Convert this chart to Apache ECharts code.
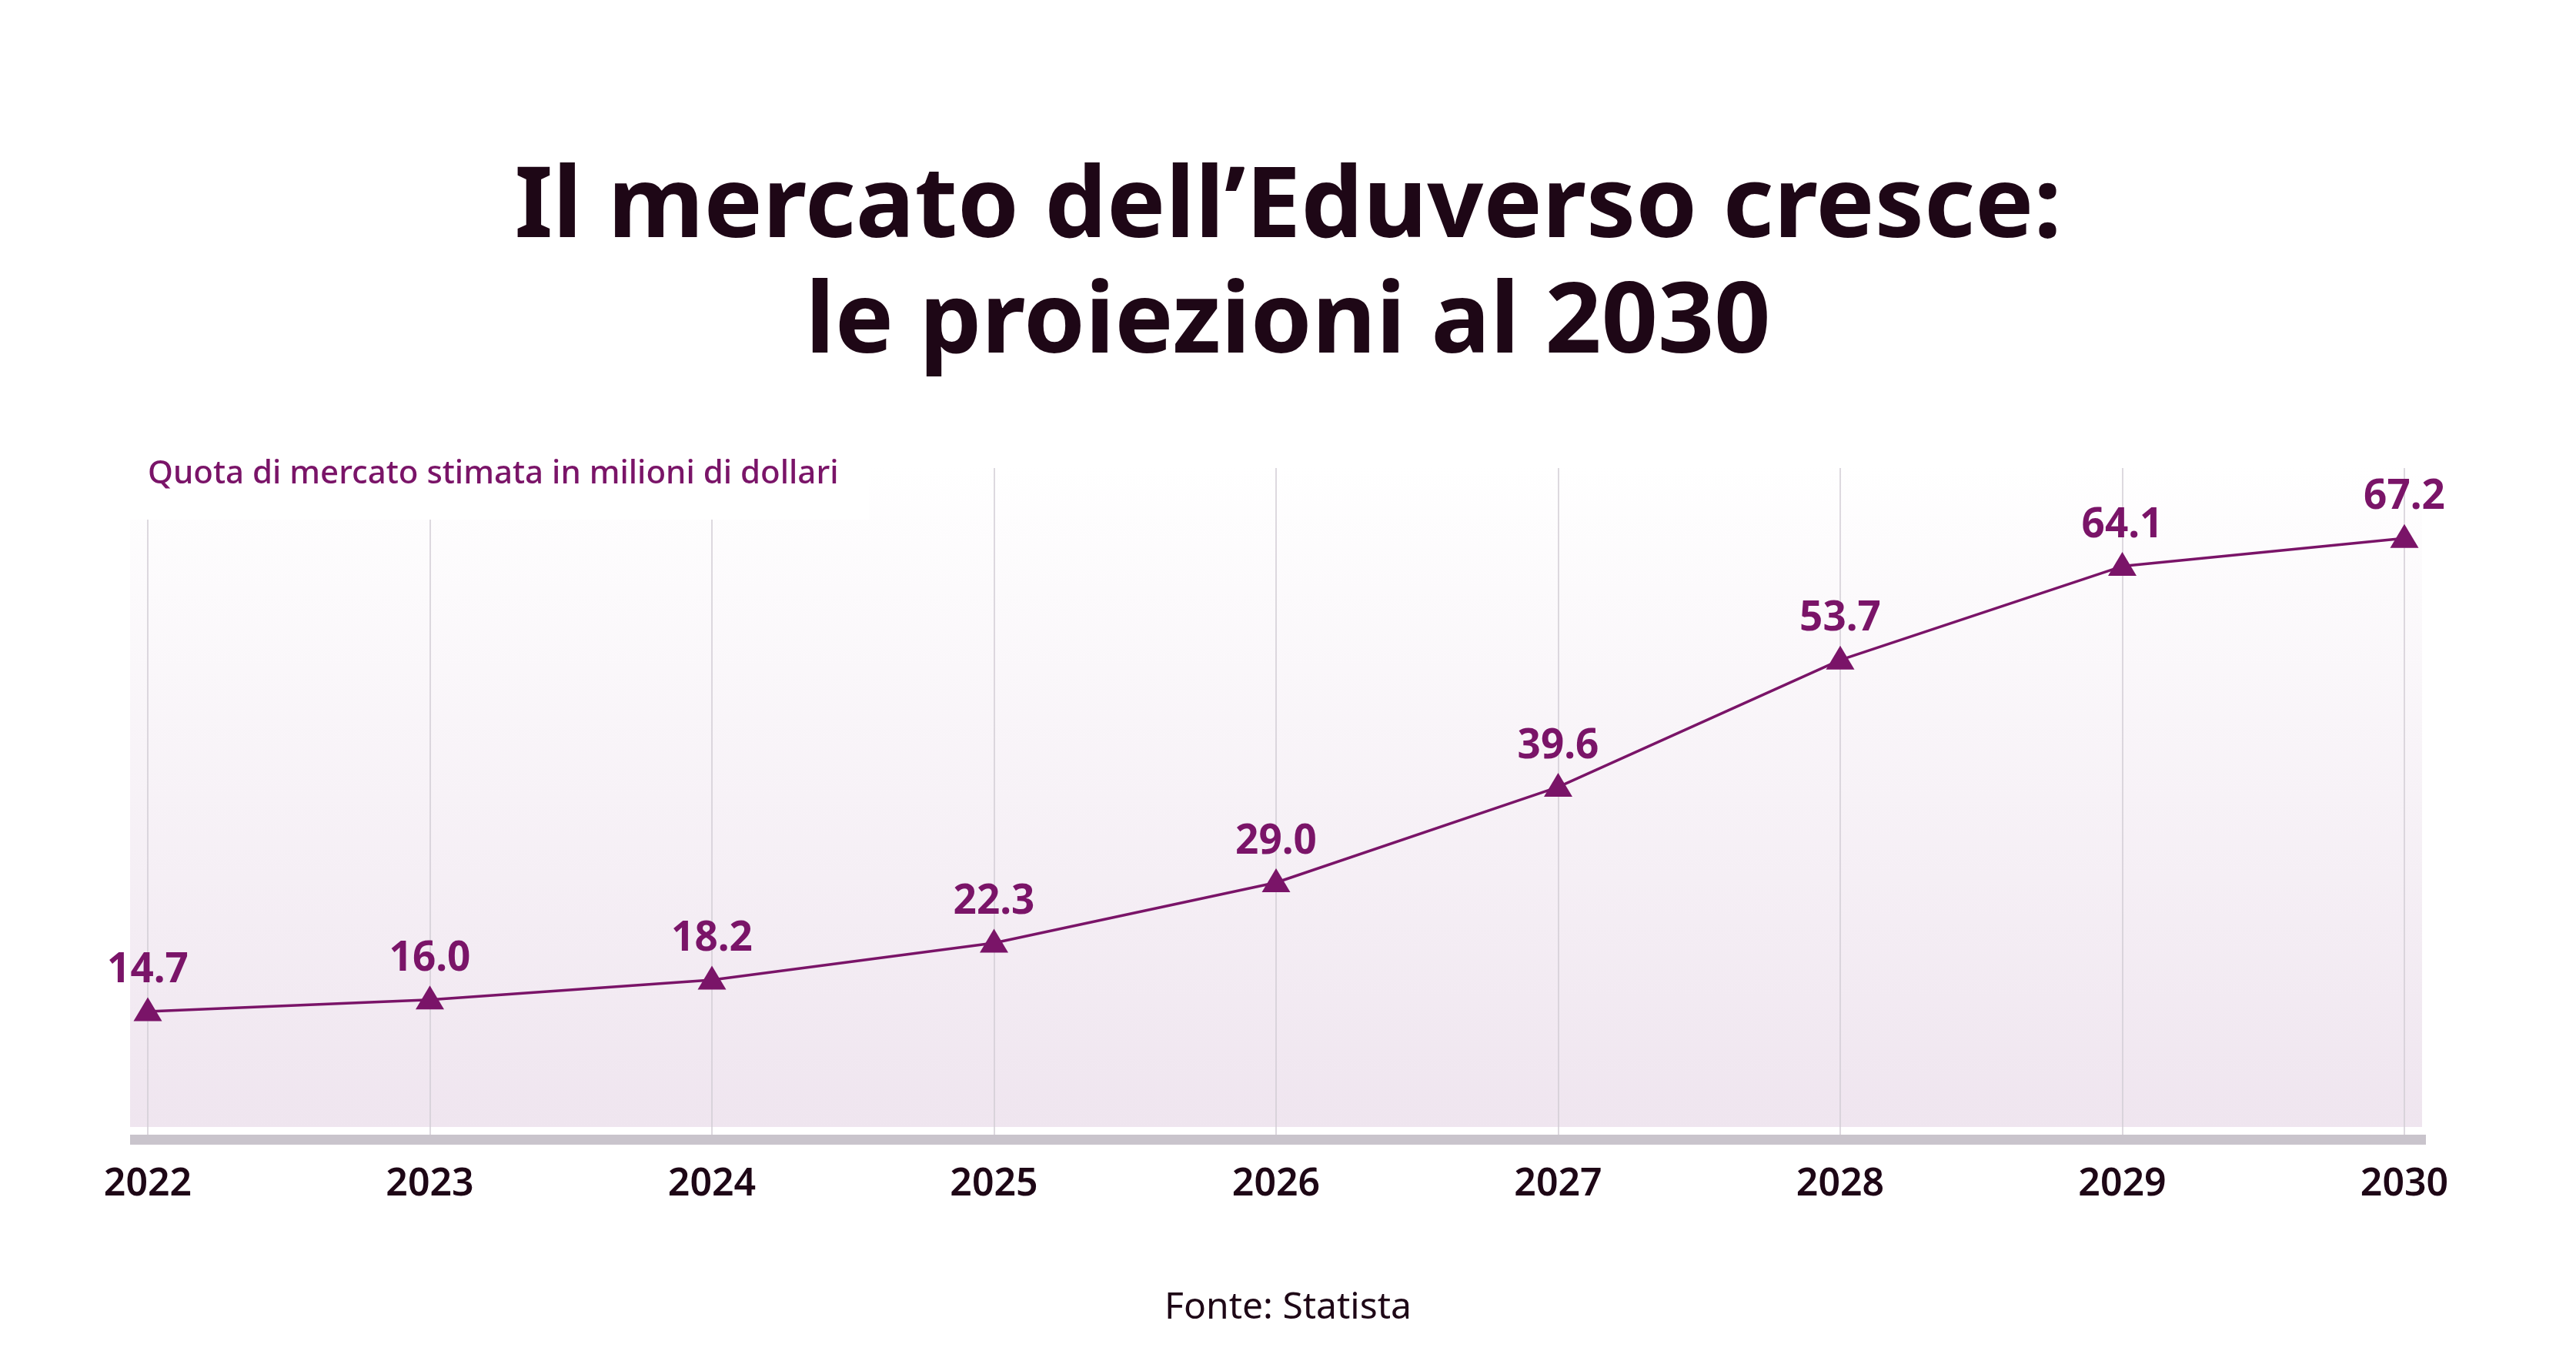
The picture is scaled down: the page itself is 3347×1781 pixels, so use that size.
<!DOCTYPE html>
<html>
<head>
<meta charset="utf-8">
<script src="https://cdn.jsdelivr.net/npm/echarts@6/dist/echarts.min.js"></script>
<style>
html,body{margin:0;padding:0;background:#fff;}
#chart{width:3347px;height:1781px;}
</style>
</head>
<body>
<div id="chart"></div>
<script>
const years = ['2022','2023','2024','2025','2026','2027','2028','2029','2030'];
const marketValues = [14.7, 16.0, 18.2, 22.3, 29.0, 39.6, 53.7, 64.1, 67.2];
const titleLines = ['Il mercato dell\u2019Eduverso cresce:', 'le proiezioni al 2030'];
const subtitleText = 'Quota di mercato stimata in milioni di dollari';
const sourceText = 'Fonte: Statista';

const purple = '#7a1468';
const dark = '#1e0716';
const font = '"Noto Sans", "Open Sans", sans-serif';

const titleStyle = {
  fontFamily: font, fontWeight: 'bold', fontSize: 128,
  lineHeight: 149, color: dark
};

const chart = echarts.init(document.getElementById('chart'));
chart.setOption({
  backgroundColor: '#ffffff',
  animation: false,
  title: [
    { text: titleLines[0], left: 'center', top: 197, padding: 0, textStyle: titleStyle },
    { text: titleLines[1], left: 'center', top: 347, padding: 0, textStyle: titleStyle },
    {
      text: subtitleText,
      left: 162,
      top: 583,
      padding: [10, 40, 36, 30],
      backgroundColor: '#ffffff',
      textStyle: {
        fontFamily: font, fontWeight: 500, fontSize: 42,
        lineHeight: 46, color: purple
      }
    },
    {
      text: sourceText,
      left: 'center',
      top: 1670,
      textStyle: {
        fontFamily: font, fontWeight: 'normal', fontSize: 48,
        color: dark
      }
    }
  ],
  graphic: [
    {
      type: 'rect', z: -10, silent: true,
      shape: { x: 169, y: 604, width: 2978, height: 860 },
      style: {
        fill: new echarts.graphic.LinearGradient(0, 0, 0, 1, [
          { offset: 0, color: '#ffffff' },
          { offset: 1, color: '#efe5ef' }
        ])
      }
    },
    {
      type: 'rect', z: 5, silent: true,
      shape: { x: 169, y: 1474, width: 2983, height: 13 },
      style: { fill: '#c9c4cc' }
    }
  ],
  grid: { left: 192, right: 223, top: 608, bottom: 295, containLabel: false },
  xAxis: {
    type: 'category',
    data: years,
    boundaryGap: false,
    axisLine: { show: false },
    axisTick: { show: false },
    axisLabel: {
      margin: 28,
      fontFamily: font, fontWeight: 600, fontSize: 50, color: dark
    },
    splitLine: { show: true, lineStyle: { color: '#d2cdd4', width: 1.5 } }
  },
  yAxis: {
    type: 'value',
    min: 0, max: 75,
    show: false,
    splitLine: { show: false }
  },
  series: [{
    type: 'line',
    data: marketValues,
    symbol: 'triangle',
    symbolSize: [37, 31],
    symbolOffset: [0, -3],
    lineStyle: { color: purple, width: 3.5 },
    itemStyle: { color: purple },
    label: {
      show: true,
      position: 'top',
      distance: 8,
      formatter: p => p.value.toFixed(1),
      fontFamily: font, fontWeight: 'bold', fontSize: 53, color: purple
    },
    z: 10
  }]
});
</script>
</body>
</html>
